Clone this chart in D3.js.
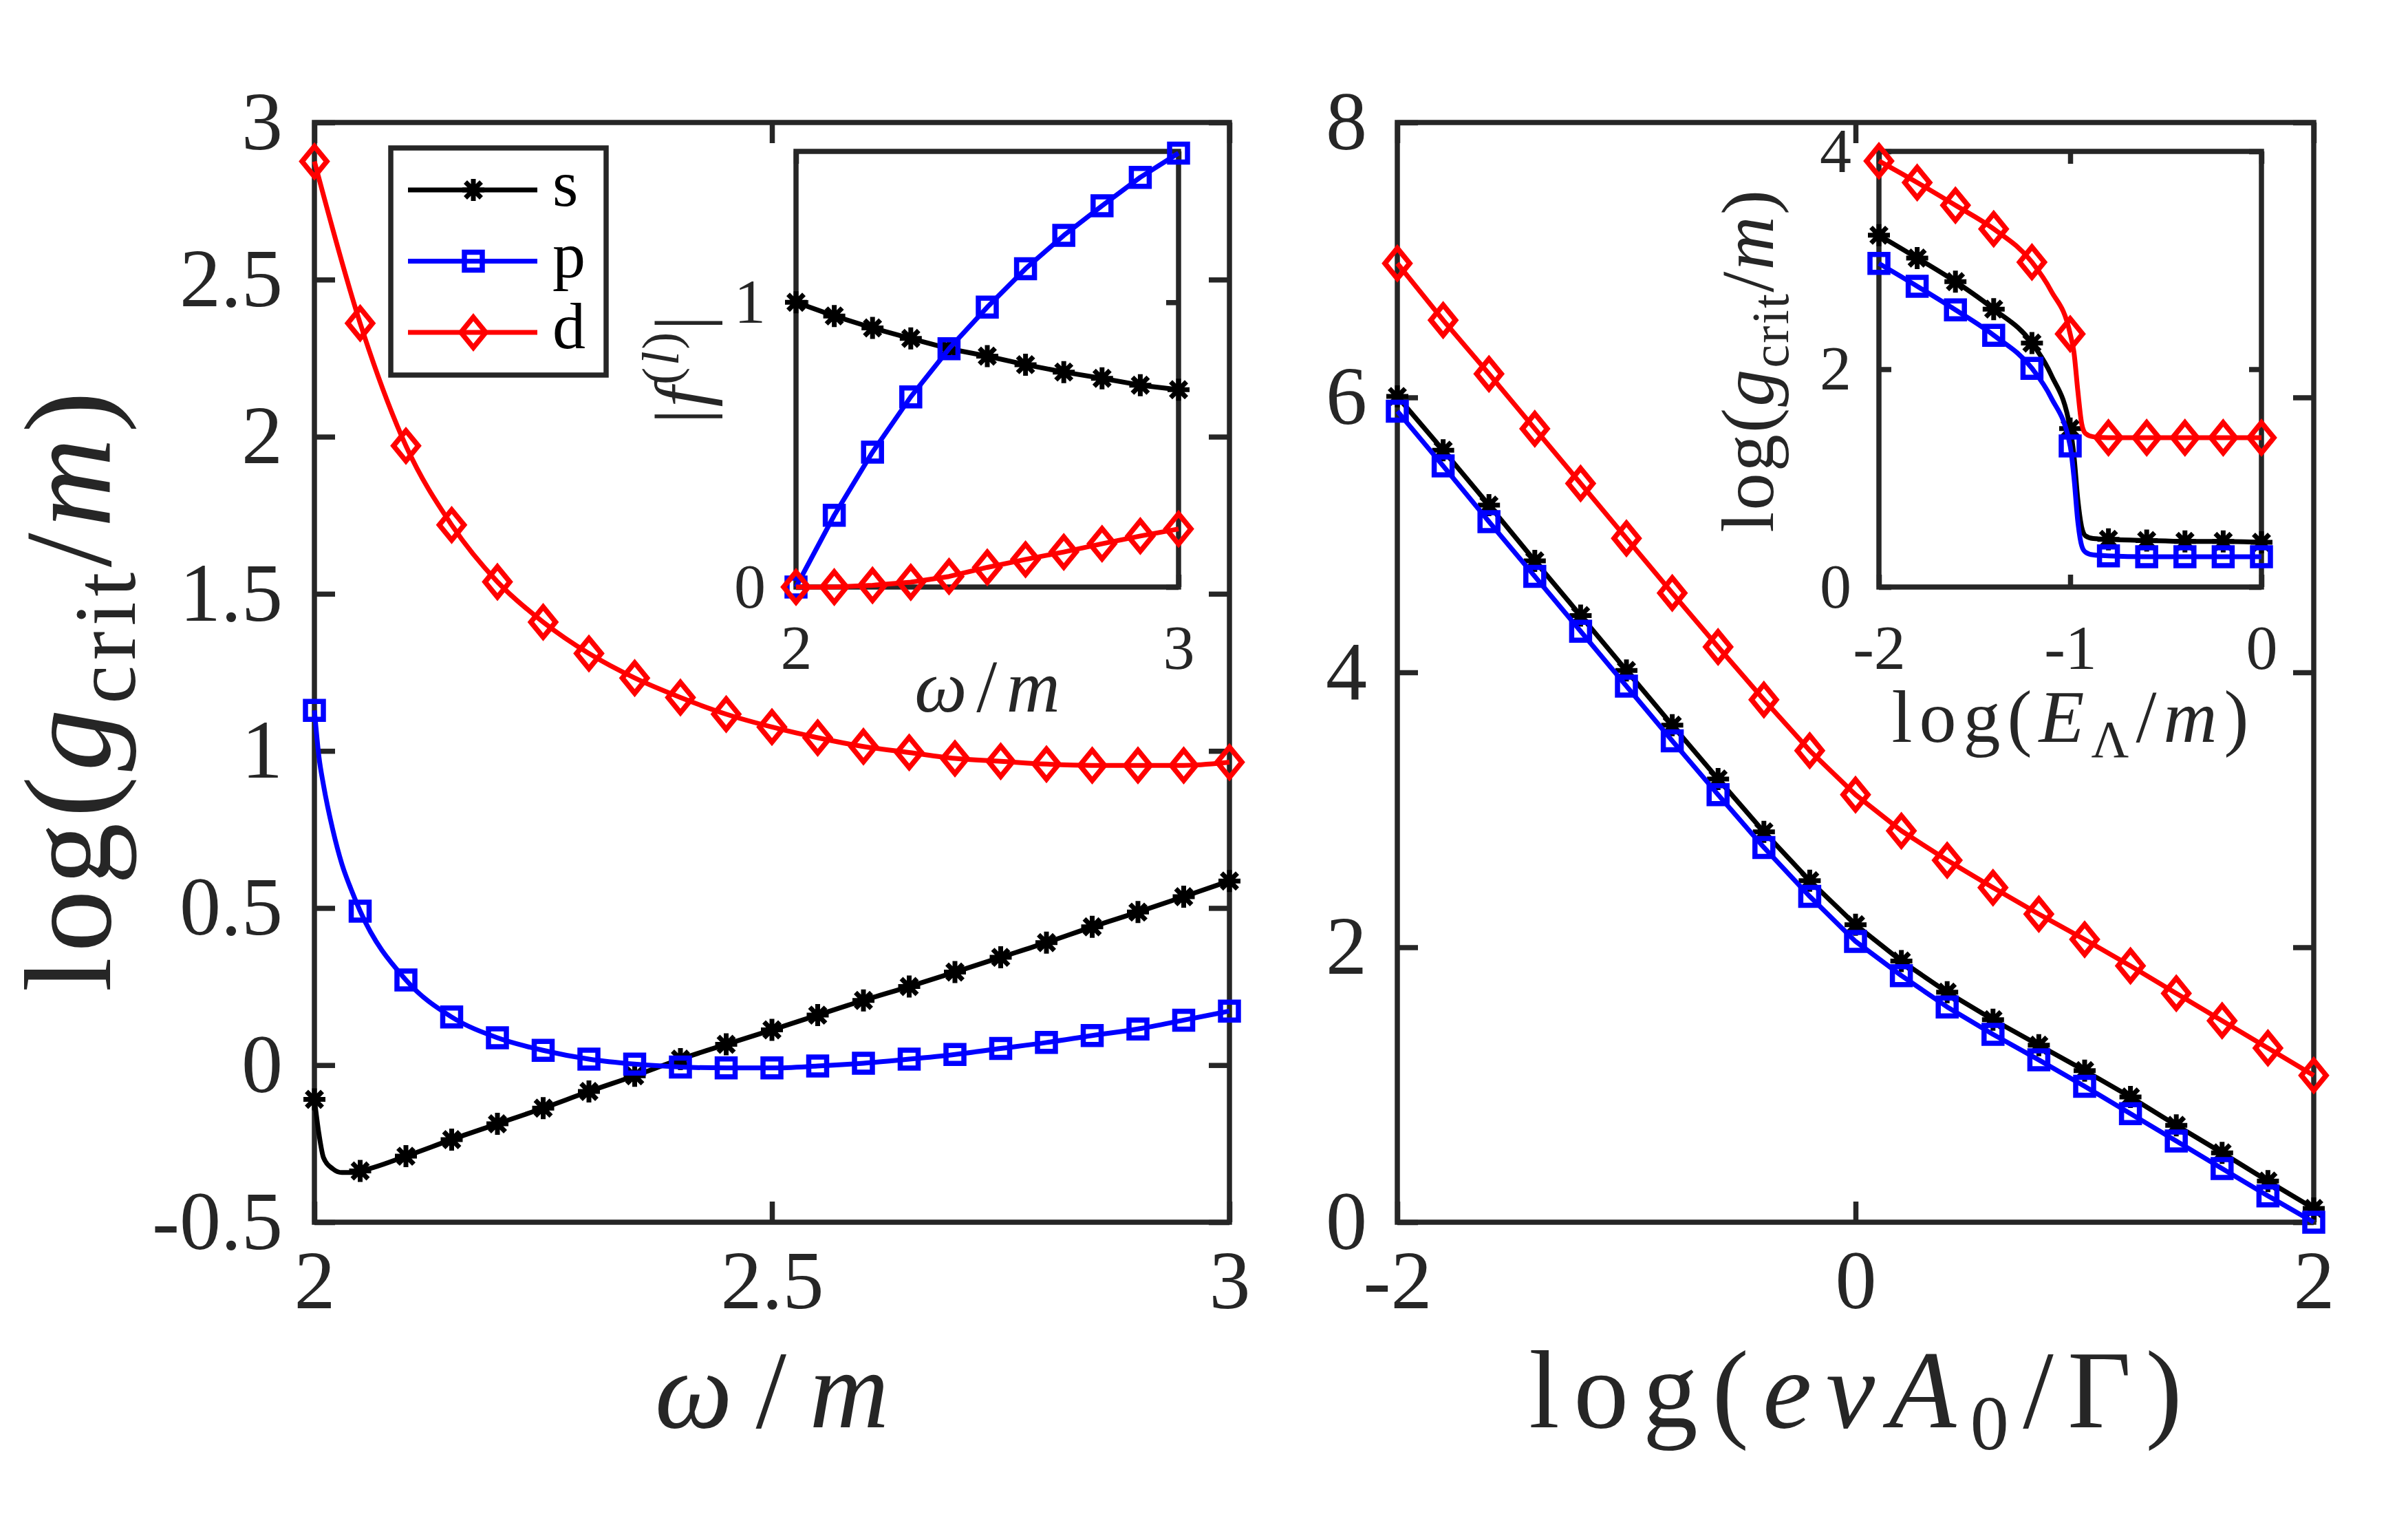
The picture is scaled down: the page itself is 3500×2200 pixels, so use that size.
<!DOCTYPE html>
<html>
<head>
<meta charset="utf-8">
<script src="https://cdn.jsdelivr.net/npm/d3@7"></script>
<style>
  body { margin: 0; background: #fff; }
  svg { display: block; }
  svg text { font-family: "Liberation Serif", "DejaVu Serif", serif; }
</style>
</head>
<body>
<div id="chart"></div>
<script>
// critical coupling vs frequency / field strength for s, p, d channels

// left panel: log(g_crit/m) vs omega/m
const omegaMain = [2.00, 2.05, 2.10, 2.15, 2.20, 2.25, 2.30, 2.35, 2.40, 2.45, 2.50,
                   2.55, 2.60, 2.65, 2.70, 2.75, 2.80, 2.85, 2.90, 2.95, 3.00];
const gS = [-0.109, -0.337, -0.290, -0.237, -0.187, -0.137, -0.084, -0.034, 0.019, 0.066, 0.112,
            0.159, 0.206, 0.250, 0.296, 0.343, 0.390, 0.440, 0.487, 0.536, 0.586];
const gP = [1.129, 0.490, 0.271, 0.153, 0.087, 0.047, 0.019, 0.003, -0.006, -0.009, -0.009,
            -0.003, 0.006, 0.019, 0.034, 0.053, 0.072, 0.094, 0.115, 0.143, 0.172];
const gD = [2.876, 2.361, 1.971, 1.719, 1.538, 1.410, 1.310, 1.232, 1.170, 1.117, 1.076,
            1.042, 1.014, 0.995, 0.976, 0.967, 0.958, 0.954, 0.954, 0.954, 0.964];
// extra curve samples just above threshold (curve only, no markers)
const omegaEdge = [2.005, 2.01, 2.02, 2.03, 2.04];
const gSEdge = [-0.22, -0.295, -0.330, -0.342, -0.342];
const gPEdge = [0.98, 0.89, 0.75, 0.64, 0.56];

// left inset: |f^(l)| vs omega/m
const omegaInset = [2.0, 2.1, 2.2, 2.3, 2.4, 2.5, 2.6, 2.7, 2.8, 2.9, 3.0];
const fS = [1.000, 0.952, 0.910, 0.873, 0.837, 0.811, 0.781, 0.755, 0.733, 0.709, 0.693];
const fP = [0.000, 0.252, 0.474, 0.668, 0.837, 0.983, 1.118, 1.235, 1.339, 1.439, 1.524];
const fD = [0.000, 0.000, 0.006, 0.017, 0.037, 0.069, 0.097, 0.123, 0.152, 0.179, 0.204];

// right panel: log(g_crit/m) vs log(evA0/Gamma)
const fieldLog = [-2.0, -1.8, -1.6, -1.4, -1.2, -1.0, -0.8, -0.6, -0.4, -0.2, 0.0,
                  0.2, 0.4, 0.6, 0.8, 1.0, 1.2, 1.4, 1.6, 1.8, 2.0];
const eS = [6.007, 5.616, 5.217, 4.811, 4.413, 4.014, 3.616, 3.224, 2.840, 2.484, 2.164,
            1.900, 1.673, 1.473, 1.288, 1.103, 0.911, 0.705, 0.505, 0.299, 0.100];
const eP = [5.900, 5.502, 5.096, 4.698, 4.299, 3.900, 3.502, 3.110, 2.726, 2.370, 2.043,
            1.794, 1.566, 1.367, 1.181, 0.989, 0.790, 0.591, 0.391, 0.192, 0.000];
const eD = [6.975, 6.562, 6.171, 5.772, 5.374, 4.975, 4.577, 4.185, 3.801, 3.431, 3.110,
            2.847, 2.633, 2.434, 2.242, 2.057, 1.865, 1.665, 1.466, 1.267, 1.068];

// right inset: log(g_crit/m) vs log(E_Lambda/m)
const cutLog = [-2.0, -1.8, -1.6, -1.4, -1.2, -1.0, -0.8, -0.6, -0.4, -0.2, 0.0];
const cS = [3.230, 3.021, 2.804, 2.552, 2.240, 1.455, 0.438, 0.427, 0.419, 0.419, 0.411];
const cP = [2.971, 2.762, 2.545, 2.312, 2.008, 1.295, 0.286, 0.278, 0.278, 0.278, 0.278];
const cD = [3.912, 3.714, 3.505, 3.288, 2.983, 2.324, 1.371, 1.371, 1.371, 1.371, 1.371];
// extra curve samples around the drop (curve only)
const cutEdge = [-1.1, -0.98, -0.96, -0.94, -0.92, -0.88];
const cSEdge = [1.95, 1.20, 0.80, 0.55, 0.47, 0.445];
const cPEdge = [1.74, 1.00, 0.60, 0.38, 0.32, 0.295];
const cDEdge = [2.72, 2.15, 1.80, 1.50, 1.41, 1.38];

// tick values
const leftXTicks = [2, 2.5, 3];
const leftYTicks = [-0.5, 0, 0.5, 1, 1.5, 2, 2.5, 3];
const rightXTicks = [-2, 0, 2];
const rightYTicks = [0, 2, 4, 6, 8];
const insetLXTicks = [2, 3];
const insetLYTicks = [0, 1];
const insetRXTicks = [-2, -1, 0];
const insetRYTicks = [0, 2, 4];

const channels = ['s', 'p', 'd'];

const AX = '#262626';
const COLORS = { s: '#000000', p: '#0000ff', d: '#ff0000' };

const svg = d3.select('#chart').append('svg')
  .attr('width', 3500)
  .attr('height', 2200);

function zip(xs, ys) {
  return xs.map((x, i) => [x, ys[i]]);
}

function withEdge(xs, ys, ex, ey) {
  return zip(xs, ys).concat(zip(ex, ey)).sort((a, b) => a[0] - b[0]);
}

function markerPath(type) {
  if (type === 's') {
    const r = 16, a = 11.5;
    return `M${-r},0H${r}M0,${-r}V${r}M${-a},${-a}L${a},${a}M${-a},${a}L${a},${-a}`;
  }
  if (type === 'p') return 'M-13,-13H13V13H-13Z';
  return 'M0,-22L18,0L0,22L-18,0Z';
}

function drawMarker(g, type, cx, cy) {
  g.append('path')
    .attr('d', markerPath(type))
    .attr('transform', `translate(${cx},${cy})`)
    .attr('fill', 'none')
    .attr('stroke', COLORS[type])
    .attr('stroke-width', type === 's' ? 7 : 7.5)
    .attr('stroke-linejoin', 'miter');
}

// math-ish label built from tspans, stretched to the reference width
function mathLabel(g, parts, size, x, y, rotate, width) {
  const t = g.append('text')
    .attr('font-size', size)
    .attr('fill', AX)
    .attr('text-anchor', 'middle')
    .attr('transform', rotate ? `translate(${x},${y}) rotate(-90)` : `translate(${x},${y})`);
  let shift = 0;
  parts.forEach(p => {
    const ts = t.append('tspan').text(p.t);
    let target = 0;
    let fs = size;
    if (p.sub) { target = 0.2 * size; fs = 0.7 * size; }
    if (p.sup) { target = -0.38 * size; fs = 0.7 * size; }
    ts.attr('font-size', fs);
    if (p.it) ts.attr('font-style', 'italic');
    if (target !== shift) {
      ts.attr('dy', target - shift);
      shift = target;
    }
  });
  if (width) {
    const node = t.node();
    const w = node.getComputedTextLength();
    const n = node.textContent.length;
    if (w > 0 && n > 1 && width > w) {
      const ls = (width - w) / n;
      t.attr('letter-spacing', ls);
      t.attr('dx', ls / 2);
    }
  }
  return t;
}

function drawPanel(p) {
  const x = d3.scaleLinear().domain(p.xDomain).range([p.box.left, p.box.right]);
  const y = d3.scaleLinear().domain(p.yDomain).range([p.box.bottom, p.box.top]);
  const g = svg.append('g');

  g.append('rect')
    .attr('x', p.box.left).attr('y', p.box.top)
    .attr('width', p.box.right - p.box.left)
    .attr('height', p.box.bottom - p.box.top)
    .attr('fill', '#fff');

  const fmt = d => String(d);
  const axes = [
    [d3.axisBottom(x).tickValues(p.xTicks).tickPadding(p.xPad), `translate(0,${p.box.bottom})`, true],
    [d3.axisTop(x).tickValues(p.xTicks), `translate(0,${p.box.top})`, false],
    [d3.axisLeft(y).tickValues(p.yTicks).tickPadding(p.yPad), `translate(${p.box.left},0)`, true],
    [d3.axisRight(y).tickValues(p.yTicks), `translate(${p.box.right},0)`, false]
  ];
  axes.forEach(([axis, tr, labeled]) => {
    axis.tickSizeInner(-p.tick).tickSizeOuter(0).tickFormat(labeled ? fmt : () => '');
    const ag = g.append('g').attr('transform', tr).call(axis);
    ag.select('.domain').remove();
    ag.selectAll('line').attr('stroke', AX).attr('stroke-width', 7.5);
    ag.selectAll('text')
      .attr('font-size', p.tickFont)
      .attr('fill', AX);
    ag.attr('font-family', null).attr('font-size', null);
  });

  g.append('rect')
    .attr('x', p.box.left).attr('y', p.box.top)
    .attr('width', p.box.right - p.box.left)
    .attr('height', p.box.bottom - p.box.top)
    .attr('fill', 'none')
    .attr('stroke', AX)
    .attr('stroke-width', 7.5);

  p.series.forEach(s => {
    const line = d3.line()
      .x(d => x(d[0]))
      .y(d => y(d[1]))
      .curve(s.curve || d3.curveLinear);
    g.append('path')
      .datum(s.line)
      .attr('d', line)
      .attr('fill', 'none')
      .attr('stroke', COLORS[s.type])
      .attr('stroke-width', 7)
      .attr('stroke-linejoin', 'round');
    s.marks.forEach(d => drawMarker(g, s.type, x(d[0]), y(d[1])));
  });
  return g;
}

// left main panel
drawPanel({
  box: { left: 457, right: 1787, top: 178, bottom: 1776 },
  xDomain: [2, 3], yDomain: [-0.5, 3],
  xTicks: leftXTicks, yTicks: leftYTicks,
  tick: 30, tickFont: 120, xPad: 40, yPad: 46,
  series: [
    { type: 's', marks: zip(omegaMain, gS), line: withEdge(omegaMain, gS, omegaEdge, gSEdge), curve: d3.curveMonotoneX },
    { type: 'p', marks: zip(omegaMain, gP), line: withEdge(omegaMain, gP, omegaEdge, gPEdge), curve: d3.curveMonotoneX },
    { type: 'd', marks: zip(omegaMain, gD), line: zip(omegaMain, gD), curve: d3.curveMonotoneX }
  ]
});

// legend
const legend = svg.append('g');
legend.append('rect')
  .attr('x', 568).attr('y', 215).attr('width', 313).attr('height', 330)
  .attr('fill', '#fff').attr('stroke', AX).attr('stroke-width', 7.5);
const legendY = d3.scalePoint().domain(channels).range([276, 483]);
channels.forEach(c => {
  legend.append('line')
    .attr('x1', 593).attr('x2', 781)
    .attr('y1', legendY(c)).attr('y2', legendY(c))
    .attr('stroke', COLORS[c]).attr('stroke-width', 7);
  drawMarker(legend, c, 688, legendY(c));
  legend.append('text')
    .attr('x', 803).attr('y', legendY(c)).attr('dy', '0.24em')
    .attr('font-size', 96).attr('fill', '#000')
    .text(c);
});

// left inset
drawPanel({
  box: { left: 1157, right: 1713, top: 220, bottom: 853 },
  xDomain: [2, 3], yDomain: [0, 1.53],
  xTicks: insetLXTicks, yTicks: insetLYTicks,
  tick: 18, tickFont: 92, xPad: 54, yPad: 44,
  series: [
    { type: 's', marks: zip(omegaInset, fS), line: zip(omegaInset, fS) },
    { type: 'p', marks: zip(omegaInset, fP), line: zip(omegaInset, fP) },
    { type: 'd', marks: zip(omegaInset, fD), line: zip(omegaInset, fD) }
  ]
});

// right main panel
drawPanel({
  box: { left: 2031, right: 3363, top: 178, bottom: 1776 },
  xDomain: [-2, 2], yDomain: [0, 8],
  xTicks: rightXTicks, yTicks: rightYTicks,
  tick: 30, tickFont: 120, xPad: 40, yPad: 44,
  series: [
    { type: 's', marks: zip(fieldLog, eS), line: zip(fieldLog, eS) },
    { type: 'p', marks: zip(fieldLog, eP), line: zip(fieldLog, eP) },
    { type: 'd', marks: zip(fieldLog, eD), line: zip(fieldLog, eD) }
  ]
});

// right inset
drawPanel({
  box: { left: 2731, right: 3287, top: 220, bottom: 853 },
  xDomain: [-2, 0], yDomain: [0, 4],
  xTicks: insetRXTicks, yTicks: insetRYTicks,
  tick: 18, tickFont: 92, xPad: 54, yPad: 40,
  series: [
    { type: 's', marks: zip(cutLog, cS), line: withEdge(cutLog, cS, cutEdge, cSEdge), curve: d3.curveMonotoneX },
    { type: 'p', marks: zip(cutLog, cP), line: withEdge(cutLog, cP, cutEdge, cPEdge), curve: d3.curveMonotoneX },
    { type: 'd', marks: zip(cutLog, cD), line: withEdge(cutLog, cD, cutEdge, cDEdge), curve: d3.curveMonotoneX }
  ]
});

// axis labels
const labels = svg.append('g');
mathLabel(labels, [{ t: 'ω', it: true }, { t: '/' }, { t: 'm', it: true }], 160, 1122, 2074, false, 374);
mathLabel(labels, [{ t: 'log(' }, { t: 'evA', it: true }, { t: '0', sub: true }, { t: '/Γ)' }], 160, 2697, 2074, false, 970);
mathLabel(labels, [{ t: 'log(' }, { t: 'g', it: true }, { t: 'crit', sub: true }, { t: '/' }, { t: 'm', it: true }, { t: ')' }], 180, 160, 1005, true, 880);
mathLabel(labels, [{ t: 'ω', it: true }, { t: '/' }, { t: 'm', it: true }], 108, 1435, 1034, false, 225);
mathLabel(labels, [{ t: '|' }, { t: 'f', it: true }, { t: '(', sup: true }, { t: 'l', sup: true, it: true }, { t: ')', sup: true }, { t: '|' }], 108, 1027, 537, true, 160);
mathLabel(labels, [{ t: 'log(' }, { t: 'E', it: true }, { t: 'Λ', sub: true }, { t: '/' }, { t: 'm', it: true }, { t: ')' }], 108, 3009, 1078, false, 529);
mathLabel(labels, [{ t: 'log(' }, { t: 'g', it: true }, { t: 'crit', sub: true }, { t: '/' }, { t: 'm', it: true }, { t: ')' }], 108, 2577, 525, true, 500);
</script>
</body>
</html>
